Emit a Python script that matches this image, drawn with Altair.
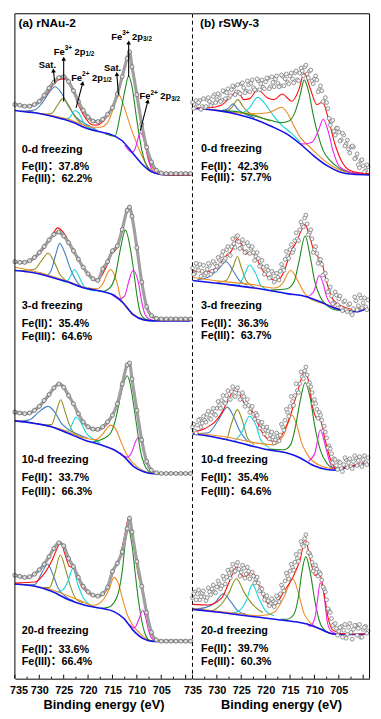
import altair as alt
import pandas as pd

FONT = "Liberation Sans, Arial, Noto Sans CJK SC, sans-serif"
PANEL_W = 179.5
PANEL_H = 674
E_LEFT, E_RIGHT = 735, 698.7

AXIS_VALUES = [735, 730, 725, 720, 715, 710, 705]
MAJOR_TICKS = [735, 730, 725, 720, 715, 710, 705, 700]
MINOR_TICKS = [732.5, 727.5, 722.5, 717.5, 712.5, 707.5, 702.5]

# energy grids of the measured points
GRID_A = [735, 734, 733, 732, 731, 730, 729, 728, 727, 726, 725, 724, 723, 722, 721, 720,
          719, 718, 717, 716, 715, 714, 713, 712, 711.5, 711, 710, 709, 708, 707, 706, 705,
          704, 703, 702, 701, 700, 699]
GRID_B = [735, 734.5, 734, 733.5, 733, 732.5, 732, 731.5, 731, 730.5, 730, 729.5, 729, 728.5,
          728, 727.5, 727, 726.5, 726, 725.5, 725, 724.5, 724, 723.5, 723, 722.5, 722, 721.5,
          721, 720.5, 720, 719.5, 719, 718.5, 718, 717.5, 717, 716.5, 716, 715.5, 715, 714.5,
          714, 713.5, 713, 712.5, 712, 711.5, 711, 710.5, 710, 709.5, 709, 708.5, 708, 707.5,
          707, 706.5, 706, 705.5, 705, 704.5, 704, 703.5, 703, 702.5, 702, 701.5, 701, 700.5,
          700, 699.5, 699]
GRID_B2 = [734.75, 734.25, 733.75, 733.25, 732.75, 732.25, 731.75, 731.25, 730.75, 730.25,
           729.75, 729.25, 728.75, 728.25, 727.75, 727.25, 726.75, 726.25, 725.75, 725.25,
           724.75, 724.25, 723.75, 723.25, 722.75, 722.25, 721.75, 721.25, 720.75, 720.25,
           719.75, 719.25, 718.75, 718.25, 717.75, 717.25, 716.75, 716.25, 715.75, 715.25,
           714.75, 714.25, 713.75, 713.25, 712.75, 712.25, 711.75, 711.25, 710.75, 710.25,
           709.75, 709.25, 708.75, 708.25, 707.75, 707.25, 706.75, 706.25, 705.75, 705.25,
           704.75, 704.25, 703.75, 703.25, 702.75, 702.25, 701.75, 701.25, 700.75, 700.25,
           699.75, 699.25]

# ---------------- (a) rNAu-2 : measured intensities (offset, arb. units) ----------------
a0_data = [582, 581.3, 580.3, 580.3, 582, 585.3, 591.3, 598.7, 604.7, 609.3, 610.3, 605.3,
           596, 585.3, 576, 569.3, 565.3, 564.7, 567, 572, 578.7, 592.7, 610.3, 628.7, 635.3,
           620.3, 592, 562, 538.7, 523.7, 515.3, 512.7, 512, 512, 512, 512, 512, 512]
a1_data = [422.7, 422, 422, 423.7, 427, 432, 438, 444.7, 450.3, 452.7, 448.7, 442, 433.7,
           425.3, 417, 410.3, 405.3, 403.7, 415.3, 422.7, 433.7, 438.7, 455.3, 474.7, 478,
           468.7, 437, 402, 377, 368, 365.3, 364.7, 364.7, 364.7, 364.7, 364.7, 364.7, 364.7]
a2_data = [270.3, 269.3, 268.7, 269.3, 272, 276, 282, 288, 294.7, 298.7, 295.3, 287, 278.7,
           268.7, 260.3, 255.3, 253, 252.7, 255.3, 260.3, 267, 278.7, 298.7, 318, 320, 303.7,
           272, 242, 220.3, 211.3, 208.7, 208, 208, 208, 208, 208, 208, 208]
a3_data = [104.7, 103.7, 102.7, 103.3, 106, 110.3, 116, 123.7, 132, 137.7, 134.7, 122, 113.7,
           102.7, 93.7, 88, 84.7, 83.7, 86, 92.7, 108.7, 117, 128.7, 152, 162.7, 148.7, 118.7,
           93.7, 67, 47, 39.3, 38, 38, 38, 38, 38, 38, 38]

# ---------------- (b) rSWy-3 : measured intensities (two interleaved point sets) --------
b0_data = [584, 579, 583, 586, 580, 579, 587, 585, 583, 592, 587, 591.5, 586.5, 595, 594, 589,
           597, 600, 595, 594.5, 603, 599, 595.5, 602, 603.5, 599, 596.5, 606, 603, 599.5, 605,
           608.5, 600, 604.5, 608, 603.5, 601, 610.5, 608, 604.5, 611, 608, 614, 607, 614, 616,
           620, 613, 616, 606, 608, 607, 597, 596, 584, 584, 568, 565, 555, 558, 554, 546, 551,
           542, 537, 539, 539, 528, 521, 525, 520, 515, 519]
b0_data2 = [578, 586, 584, 577, 588, 580, 589, 581, 590, 584, 593, 585, 596, 588, 598, 591,
            601, 592, 602, 593, 604, 594, 606, 595, 607, 597, 608, 597, 607, 598, 609, 598,
            610, 600, 611, 600, 612, 601, 613, 603, 614, 604, 616, 606, 619, 611, 622, 609,
            617, 603, 611, 595, 601, 585, 589, 578, 561, 566, 551, 558, 545, 553, 540, 546,
            533, 540, 527, 532, 518, 526, 514, 521]
b1_data = [416, 411, 418, 420, 413, 409, 415, 419, 413, 421, 418, 425, 429, 424, 435, 430, 438,
           441, 448, 443, 437, 441, 433, 439, 436, 432, 428, 426, 419, 417, 412, 414, 407, 411,
           405, 407, 413, 416, 425, 428, 435, 432, 444, 446, 455, 460, 467, 461, 452, 446, 435,
           431, 425, 420, 410, 404, 393, 388, 381, 389, 385, 376, 382, 374, 379, 371, 375, 383,
           378, 386, 381, 377, 384]
b1_data2 = [410, 421, 414, 408, 419, 411, 421, 410, 423, 414, 427, 420, 433, 426, 438, 429,
            446, 437, 449, 436, 445, 432, 442, 431, 438, 424, 432, 418, 424, 410, 418, 406,
            413, 402, 411, 404, 420, 414, 433, 426, 440, 435, 452, 444, 463, 458, 470, 450,
            455, 432, 438, 421, 425, 409, 411, 392, 397, 380, 392, 379, 388, 373, 383, 372,
            380, 369, 387, 374, 389, 376, 386, 374]
b2_data = [255, 251, 257, 263, 259, 262, 268, 264, 270, 268, 274, 277, 282, 280, 287, 284, 291,
           287, 293, 289, 284, 286, 279, 277, 274, 268, 269, 261, 259, 255, 252, 251, 247, 245,
           242, 246, 247, 255, 262, 270, 276, 281, 287, 292, 299, 306, 312, 308, 300, 290, 283,
           273, 270, 262, 256, 244, 236, 228, 223, 216, 220, 213, 217, 222, 219, 215, 220, 224,
           221, 217, 222, 219, 224]
b2_data2 = [258, 249, 262, 255, 266, 260, 271, 263, 274, 267, 281, 274, 287, 279, 292, 283,
            296, 286, 295, 283, 290, 276, 283, 270, 276, 263, 267, 254, 260, 248, 255, 243,
            250, 239, 249, 241, 258, 252, 273, 266, 286, 277, 299, 290, 311, 304, 316, 298,
            296, 279, 279, 264, 267, 251, 250, 234, 233, 219, 222, 212, 219, 210, 224, 214,
            223, 213, 226, 216, 225, 215, 226, 217]
b3_data = [82, 88, 86, 80, 87, 83, 82, 88, 91, 88, 93, 96, 94, 101, 103, 107, 111, 108, 115, 111,
           108, 112, 106, 109, 106, 104, 101, 97, 92, 86, 82, 79, 76, 79, 77, 82, 86, 92, 99,
           104, 109, 113, 118, 122, 129, 136, 142, 137, 127, 118, 112, 111, 108, 100, 91, 80, 69,
           61, 55, 51, 48, 53, 49, 41, 52, 47, 50, 54, 51, 42, 50, 53, 48]
b3_data2 = [86, 80, 90, 83, 89, 79, 92, 85, 95, 87, 99, 91, 104, 96, 110, 102, 116, 109, 118,
            104, 115, 102, 113, 101, 108, 97, 103, 89, 91, 80, 84, 74, 81, 73, 84, 78, 95, 89,
            107, 101, 116, 110, 126, 119, 139, 134, 146, 128, 124, 109, 115, 104, 106, 93, 88,
            71, 67, 54, 56, 44, 52, 42, 55, 45, 56, 40, 54, 44, 55, 42, 52, 46]

# ---------------- fitted curves (E, intensity) ----------------
a0_curves = {
    "blue": [(735, 576), (733, 574.7), (731, 573.7), (729, 572), (727, 569.7), (725, 567),
             (723, 563.7), (721, 559.3), (719, 556), (717, 553.7), (715, 551), (713, 545.3),
             (711, 533.7), (709, 522), (707, 513.7), (705, 511), (703, 510.3), (699, 510.3)],
    "red": [(735, 582), (733, 580.3), (731, 581), (729, 589.3), (727, 602.7), (726, 607),
            (725, 608), (724, 604.7), (723, 594.7), (722, 582), (721, 572), (720, 564.7),
            (719, 561.3), (718, 561.3), (717, 564.7), (716, 570.3), (715, 580.3), (714, 592),
            (713, 610.3), (712, 628.7), (711.5, 634.7), (711, 623.7), (710, 593.7),
            (709, 560.3), (708, 535.3), (707, 520.3), (706, 513.7), (705, 511.3), (703, 510.3),
            (699, 510.3)],
    "steel": [(734, 575.2), (731, 576.5), (729.5, 583), (728, 594), (726.8, 600), (725.5, 594),
              (724, 580), (722.5, 569.5), (720, 561), (718, 555.5)],
    "olive": [(729.5, 572.2), (727.5, 573), (726.3, 581), (725.2, 588), (724.2, 583), (723, 572),
              (721.5, 563), (720, 559), (718.5, 555.5)],
    "cyan": [(725.5, 567.5), (724, 568), (723.3, 572), (722.7, 576), (721.8, 572.5),
             (720.8, 563), (719.5, 557.5), (718, 555)],
    "orange": [(733, 575.5), (728, 571.5), (724, 567), (721, 561.5), (719, 559), (717.5, 559),
               (716, 563.7), (715, 575.3), (714, 589.3), (713.6, 591.3), (713, 585.3),
               (712, 570.3), (711, 555.3), (710, 542), (709, 530.3), (708, 520.3), (707, 514.7),
               (705, 511.3)],
    "green": [(716.5, 552.5), (714.5, 550), (713.4, 572), (712.35, 598.7), (711.7, 611),
              (711.1, 603), (710, 566), (709, 536), (707.6, 517), (706, 512), (705, 511)],
    "magenta": [(712.5, 541), (711, 533.5), (710.3, 538), (709.8, 547), (709.3, 553.7),
                (708.6, 547), (707.6, 525), (706.6, 514), (705, 511)],
}
a1_curves = {
    "blue": [(735, 413.7), (730.9, 411.3), (727.5, 407), (724.1, 402), (720.8, 396),
             (717.4, 392.7), (714.7, 388.7), (712.7, 380.3), (710.7, 368.7), (708.6, 363.7),
             (706.6, 362.7), (699, 362.7)],
    "red": [(735, 422), (732, 423), (730, 430.3), (728, 443.7), (727, 452.7), (726.3, 457),
            (725, 452), (724, 443.7), (723, 435.3), (722, 426), (721, 417), (720, 409.3),
            (719, 404.7), (718, 403.7), (717, 410.3), (716, 420.3), (715, 432), (714.5, 433.7),
            (714, 437), (713, 455.3), (712, 473.7), (711.6, 479.3), (711, 470.3), (710, 438.7),
            (709, 402), (708, 375.3), (707, 367), (706, 364.3), (705, 363.3), (699, 363.3)],
    "olive": [(734, 413.5), (731, 415), (729.5, 424), (728.2, 431.3), (727, 423), (725.8, 410),
              (724.5, 403.5), (723, 399.5)],
    "steel": [(730, 411.8), (728.3, 409.5), (727.5, 414.7), (726.7, 428.7), (725.8, 441.3),
              (724.8, 432), (723.5, 414), (722, 400.5), (720.5, 395.5), (719, 393.5)],
    "cyan": [(726, 405.5), (724.5, 402), (723.6, 408), (722.8, 414.7), (721.9, 408), (721, 399),
             (720, 395), (718.5, 393)],
    "orange": [(735, 417), (730.9, 412.7), (724.1, 402.7), (720.1, 396), (718.1, 395.3),
               (716.8, 402), (716.1, 410.3), (715.4, 414.7), (714.7, 410.3), (714, 400.3),
               (713.4, 387), (712.5, 378.5), (711, 370.5), (709, 365), (707, 362.8)],
    "green": [(720, 396), (717, 392.7), (715.4, 397), (714.4, 408.7), (713.4, 435),
              (712.35, 454.7), (711.3, 435), (710.7, 415), (710, 389), (709.3, 371),
              (708.3, 364.7), (706.6, 362.7)],
    "magenta": [(715, 388.5), (713.5, 385), (712.5, 388), (711.7, 402), (710.8, 413.7),
                (709.7, 402), (709, 382), (708.3, 369), (707.3, 364), (706, 362.8)],
}
a2_curves = {
    "blue": [(735, 261.3), (730.9, 258.7), (727.5, 255.3), (724.1, 248.7), (720.8, 242),
             (717.4, 237), (714.7, 232), (712.7, 225.3), (710.7, 215.3), (708.6, 209.7),
             (706.6, 207.7), (699, 207.7)],
    "red": [(735, 268.7), (733, 268.7), (731, 271.3), (729, 280.3), (727, 293.7), (726, 299.3),
            (725, 297), (724, 288.7), (723, 278.7), (722, 268.7), (721, 260.3), (720, 254.7),
            (719, 252), (718, 251.3), (717, 253.7), (716, 258.7), (715, 266), (714, 278.7),
            (713, 298), (712, 317), (711.6, 319.3), (711, 303.7), (710, 272), (709, 240.3),
            (708, 218.7), (707, 210.3), (706, 208), (699, 207.7)],
    "steel": [(734, 261), (732, 262.5), (730.2, 270), (728.2, 276), (726.8, 270), (725.5, 259),
              (724, 252.5), (722, 247.5), (720, 243.5)],
    "olive": [(729, 257), (727.5, 257.5), (726.5, 271), (725.6, 282.7), (724.8, 272),
              (723.8, 257), (722.6, 247.5), (721, 244)],
    "cyan": [(726, 252.5), (724.1, 250.5), (723.1, 260), (722.5, 265.3), (721.5, 260),
             (720.4, 249), (719, 243), (717.5, 239)],
    "orange": [(735, 262), (730, 258.2), (725, 252), (721, 244.5), (718.5, 242.3), (717, 248),
               (716.1, 254), (715.4, 257), (714.4, 253.7), (713.4, 242), (712.4, 230.3),
               (711.4, 222), (710, 215), (708, 209.5), (706, 207.7)],
    "green": [(719, 240), (716.7, 243.7), (715.4, 248.7), (714.4, 262), (713.4, 285.3),
              (712.55, 302), (712, 307), (711.3, 297), (710.7, 278.7), (710, 255.3),
              (709.3, 232), (708.6, 218.7), (707.6, 210.3), (706.6, 208)],
    "magenta": [(713.5, 229), (712, 224.5), (711, 230), (710.3, 240), (709.65, 244.7),
                (709, 239), (708.3, 225.5), (707.3, 212.5), (706.2, 208.2), (705, 207.8)],
}
a3_curves = {
    "blue": [(735, 96), (730.9, 93.7), (727.5, 88.7), (724.1, 80.3), (720.8, 74.7),
             (717.4, 71.3), (714.7, 68), (712.7, 61.3), (710.7, 48.7), (708.6, 40.3),
             (706.6, 37.7), (699, 37.7)],
    "red": [(735, 97), (730.9, 98), (728.9, 107), (727.5, 118.7), (726.5, 130.3),
            (725.6, 138.7), (724.8, 127), (723.8, 113.7), (723.1, 112.7), (722.5, 108.7),
            (721.5, 95.3), (720.1, 87), (718.8, 83.7), (717.4, 85.3), (716.1, 92), (715, 105.3),
            (714.4, 114.7), (713.4, 125.3), (712.35, 148.7), (711.7, 163.7), (711, 152),
            (710.3, 125.3), (709.65, 103.7), (709, 93.7), (708.3, 78.7), (707.6, 58.7),
            (707, 45.3), (706, 38.7), (704.6, 37.7), (699, 37.7)],
    "steel": [(733, 95), (730.9, 95.5), (729.5, 107), (728.3, 116), (727.2, 105.5),
              (726.2, 92.5), (724.8, 84), (723, 79)],
    "olive": [(729.5, 92.5), (727.9, 92.5), (726.8, 107), (725.7, 125.3), (724.5, 108.7),
              (723.5, 92), (722.5, 81), (721, 77)],
    "cyan": [(727, 87.5), (725.2, 90), (724.1, 99), (723.1, 112), (722.1, 95.5), (720.8, 80.5),
             (719.4, 74), (718, 71.5)],
    "orange": [(735, 96.5), (728, 91), (722, 80), (719, 74.5), (718, 75.5), (716.8, 80.5),
               (715.7, 90.3), (714.7, 102.7), (713.7, 95.3), (713, 82), (712, 65.3),
               (711, 55.5), (709.3, 45.5), (707.3, 38.8), (705.5, 37.8)],
    "green": [(717.4, 71.3), (716.1, 72), (714.7, 77), (713.7, 88.7), (713, 108.7),
              (712.35, 138.7), (711.7, 151.3), (711, 135.3), (710.3, 105.3), (709.65, 78.7),
              (709, 58.7), (708.3, 45.3), (707.3, 38.7), (706, 37.7)],
    "magenta": [(711.5, 55), (710.5, 51.5), (709.6, 60), (708.8, 69.3), (708.2, 62),
                (707.6, 49), (707, 41), (706, 38.2)],
}
b0_curves = {
    "blue": [(735, 578), (731.8, 577), (729.1, 575.3), (725.7, 572), (722.3, 567), (719, 560.3),
             (715.6, 552), (712.9, 542), (710.2, 530.3), (707.5, 520.3), (704.8, 513.7),
             (702.1, 511.3), (698.7, 510.7)],
    "red": [(735, 578.7), (731.8, 578.7), (729.1, 581.3), (727.4, 588.7), (725.7, 596),
            (724.5, 587), (723.3, 588), (721.65, 597), (719.6, 588.7), (718.3, 587),
            (716.6, 592.7), (714.6, 585.3), (713.2, 597), (712.1, 613.7), (710.9, 598.7),
            (709.5, 582), (708.3, 584.3), (707.2, 568.7), (705.8, 542), (704.5, 525.3),
            (702.8, 515.3), (700.8, 512.7), (698.7, 512)],
    "steel": [(731, 577.2), (729.1, 576), (727.7, 578), (726.7, 582.7), (725.7, 577),
              (724.7, 573.7), (722.3, 568.7)],
    "olive": [(728.4, 574.7), (727, 578.7), (725.7, 587), (724.7, 580.3), (723.7, 574.7),
              (721.7, 570.3), (719, 565.3)],
    "cyan": [(725, 572.7), (723.3, 578.7), (721.65, 589.3), (720, 582), (718.6, 572),
             (716.9, 562), (714.9, 553.7), (712.9, 543.7)],
    "orange": [(731.8, 577.5), (725.7, 573.7), (722.3, 572.7), (719.6, 573.7), (717.9, 577),
               (716.7, 579.3), (715.6, 573.7), (714.2, 560.3), (712.9, 548.7), (710.9, 538.7),
               (708.8, 528.7), (706.1, 518.7), (703.5, 513.7), (699.4, 511.3)],
    "green": [(729, 575.8), (725.7, 574.7), (722.3, 570.3), (719, 566), (716.9, 563.7),
              (715.2, 565.3), (713.9, 575.3), (712.9, 592), (712.1, 607), (711.2, 595.3),
              (710.2, 570.3), (709.2, 550.3), (708.2, 535.3), (706.8, 525.3), (704.8, 517),
              (702.1, 512.7), (699.4, 511.3)],
    "magenta": [(713, 542.5), (712.2, 542), (710.5, 543.7), (709.2, 555.3), (708.2, 567),
                (707.2, 555.3), (706.2, 535.3), (704.8, 518.7), (702.8, 513.7), (699.4, 511.3)],
}
b1_curves = {
    "blue": [(735, 403.7), (729.1, 400.3), (722.3, 396), (715.6, 390.3), (711.5, 387),
             (708.8, 382), (706.1, 376), (703.5, 372.7), (701.4, 372), (699.4, 375.3)],
    "red": [(735, 413.7), (732.4, 412), (729.7, 418.7), (728.1, 428.7), (727, 433.7),
            (725.8, 446), (725, 440.3), (724.2, 430.3), (723, 432), (722, 427), (720.6, 413.7),
            (719, 405.3), (717.6, 403.7), (716.3, 412), (714.9, 432), (713.6, 443.7),
            (712.6, 455.3), (711.9, 460.3), (711.2, 452), (710.2, 435.3), (709.2, 427),
            (708.5, 422), (707.5, 402), (706.1, 383.7), (704.1, 377), (702.1, 374.3),
            (699.4, 376)],
    "steel": [(734, 404.5), (731.8, 407), (729.7, 415.3), (728.1, 422.7), (726.7, 413.7),
              (725.4, 403.7), (723.7, 398.7)],
    "olive": [(730, 401.5), (728.1, 403.7), (726.7, 417), (725.8, 428), (725, 417),
              (724, 403.7), (722.3, 397)],
    "cyan": [(727, 399.5), (725.7, 398.7), (724.4, 408.7), (723.3, 419.3), (722, 410.3),
             (721, 398.7), (719.3, 393.7)],
    "orange": [(735, 407), (729.1, 402.7), (722.3, 399.3), (718.3, 396), (716.6, 400.3),
               (714.9, 413.7), (713.6, 405.3), (712.2, 392), (710.9, 385.3), (707.5, 379.3),
               (704.1, 373.7), (701.5, 372.5)],
    "green": [(719, 393.9), (715.6, 395.3), (714.2, 402), (713.2, 422), (711.9, 448.7),
              (710.9, 428.7), (709.9, 402), (708.8, 387), (707.5, 378.7), (705.5, 373.7),
              (702, 372.3)],
    "magenta": [(711.5, 387), (710.2, 392), (709, 408.7), (708.2, 400.3), (707.5, 387),
                (706.1, 377), (704.5, 373.5)],
}
b2_curves = {
    "blue": [(735, 248), (731.8, 246), (727.7, 242), (723.7, 237), (719.6, 232),
             (715.6, 228.7), (712.9, 223.7), (710.2, 216), (707.5, 212), (705.5, 211.3),
             (703.5, 213.7), (699.4, 218.7)],
    "red": [(735, 250.3), (732.4, 253.7), (730.4, 260.3), (729.1, 268.7), (727.7, 282),
            (726.4, 292.7), (725.4, 288.7), (724.3, 278.7), (723.3, 275.3), (722.3, 267),
            (721, 252), (719.3, 242), (717.9, 240.3), (716.3, 250.3), (714.9, 267),
            (714.2, 278.7), (713.2, 295.3), (712.1, 310.3), (711.2, 302), (710.5, 278.7),
            (709.5, 263.7), (708.8, 262), (707.8, 242), (706.8, 223.7), (705.5, 212.7),
            (703.5, 214.7), (699.4, 219.3)],
    "steel": [(734, 248.5), (731.8, 249.3), (729.7, 262), (727.85, 275.3), (726.7, 267),
              (725.4, 252), (723.7, 240.3)],
    "olive": [(729.5, 244), (728.1, 242.5), (727, 258.7), (725.8, 272.7), (724.7, 260.3),
              (723.7, 243.7), (722.3, 237)],
    "cyan": [(726.4, 240.5), (725, 248.7), (723.3, 266), (722, 257), (721, 242),
             (719.3, 234.7)],
    "orange": [(735, 249.3), (727.7, 244.7), (722.3, 239.3), (718.3, 237), (716.3, 247),
               (714.6, 267), (713.6, 257), (712.6, 238.7), (711.2, 225.3), (708.8, 216),
               (706.1, 212.7), (703.5, 214.2)],
    "green": [(719.6, 232.7), (716.3, 232), (714.9, 237), (713.9, 255.3), (712.9, 282),
              (711.9, 300.3), (710.9, 285.3), (709.9, 255.3), (708.8, 232), (707.5, 218.7),
              (706.1, 213.7), (704, 213.5)],
    "magenta": [(711.2, 220.3), (709.9, 228.7), (708.8, 252), (707.8, 237), (706.8, 218.7),
                (705.8, 212), (704.5, 212.8)],
}
b3_curves = {
    "blue": [(735, 70.3), (729.1, 67), (722.3, 62.7), (715.6, 58.7), (711.5, 55.3),
             (708.8, 50.3), (706.1, 45.3), (703.5, 44.7), (699.4, 45.3)],
    "red": [(735, 75.3), (731.8, 74.7), (729.1, 81.3), (727.4, 98.7), (726, 113), (725, 106),
            (724.4, 102.7), (722.7, 107.7), (721.3, 93.7), (720, 78.7), (718.3, 73.7),
            (716.3, 88), (714.6, 101.3), (712.9, 121.3), (711.9, 141.3), (710.9, 122),
            (709.9, 104.7), (709, 107), (708.2, 92), (707.2, 62), (706.1, 48.7), (703.5, 45.3),
            (699.4, 45.3)],
    "steel": [(734.5, 70.5), (732.4, 72), (730.4, 77), (728.7, 86), (727, 77), (725.7, 68.7),
              (724, 65.3)],
    "olive": [(731, 68.5), (729.4, 73.7), (727.7, 85.3), (726, 101.3), (724.35, 87),
              (722.7, 75.3), (720.6, 67)],
    "cyan": [(727, 66.5), (725.7, 68), (724, 78.7), (722.7, 95.3), (721.3, 80.3), (720, 68.7),
             (718.3, 63.7)],
    "orange": [(735, 71), (725.7, 66), (721, 63.7), (718.3, 67), (716.3, 82), (714.4, 101.3),
               (713.2, 85.3), (712.2, 67), (710.9, 57), (708.8, 50.3), (706.1, 45.3),
               (703.5, 44.9)],
    "green": [(716.9, 60.3), (715.6, 60.3), (714.2, 65.3), (713.2, 85.3), (712.55, 108.7),
              (711.75, 123.7), (710.9, 108.7), (709.9, 78.7), (709, 58.7), (707.8, 48.7),
              (706.1, 45.3), (703.5, 44.8)],
    "magenta": [(711.5, 55.5), (710.9, 53), (709.9, 62), (709.3, 82), (708.85, 97),
                (708.3, 92), (707.8, 75.3), (707.4, 58.7), (706.7, 48.7), (705.5, 45.5)],
}

# ---------------- texts ----------------
a_texts = ["0-d freezing", "Fe(II)：37.8%", "Fe(III)：62.2%",
           "3-d freezing", "Fe(II)：35.4%", "Fe(III)：64.6%",
           "10-d freezing", "Fe(II)：33.7%", "Fe(III)：66.3%",
           "20-d freezing", "Fe(II)：33.6%", "Fe(III)：66.4%"]
a_text_I = [536.3, 518.7, 506.3, 378, 359.3, 346.7, 221.3, 203, 189.3, 48, 29.3, 17]
b_texts = ["0-d freezing", "Fe(II)：42.3%", "Fe(III)：57.7%",
           "3-d freezing", "Fe(II)：36.3%", "Fe(III)：63.7%",
           "10-d freezing", "Fe(II)：35.4%", "Fe(III)：64.6%",
           "20-d freezing", "Fe(II)：39.7%", "Fe(III)：60.3%"]
b_text_I = [537, 518.7, 507, 377.7, 359.3, 347, 221.3, 203.7, 189.3, 48, 29.7, 17]
A_TEXT_E, B_TEXT_E = 733.6, 733.25
a_title = ("(a) rNAu-2", 734.25, 664.7)
b_title = ("(b) rSWy-3", 733.44, 665)

# peak assignment labels (left panel, 0-d spectrum)
peak_E = [727.05, 723.47, 715.24, 709.46]
peak_I = [635.3, 609, 650.5, 590.3]
peak_ox = ["3+", "2+", "3+", "2+"]
peak_j = ["1/2", "1/2", "3/2", "3/2"]
sat_E = [730.09, 716.74]
sat_I = [622.3, 619]
# arrows: base (E, I) -> tip (E, I), arrow-head angle in degrees
arrow_E0 = [726.81, 725.0, 722.46, 713.77, 711.68, 709.32]
arrow_I0 = [604, 585, 578.7, 592, 610, 555.3]
arrow_E1 = [727.11, 725.0, 721.11, 714.11, 711.68, 707.76]
arrow_I1 = [616.5, 628.5, 603.7, 613, 645, 585.3]
arrow_ang = [353, 0, 15, 355, 0, 14]

COMP_NAMES = ["steel", "olive", "cyan", "orange", "green", "magenta"]
COMP_COLORS = ["#3f7fbf", "#8f8f1f", "#16d3d8", "#ef8b20", "#1d8a1d", "#ee22ee"]
BLUE = "#1414e6"
RED = "#ff0a0a"
LABEL_SIZE = 11
LABEL_PAD = 6.5


def build_panel(spectra, grids, texts, text_I, text_E, title, left):
    comp_rows, base_rows, red_rows, pt_rows = [], [], [], []
    for spec, (val_sets, curves) in spectra.items():
        for grid, vals in zip(grids, val_sets):
            assert len(vals) == len(grid), (spec, len(vals), len(grid))
            for e, v in zip(grid, vals):
                pt_rows.append({"spec": spec, "E": e, "I": v})
        for name, pts in curves.items():
            for e, i in pts:
                row = {"key": f"{spec}-{name}", "curve": name, "E": e, "I": i}
                if name == "blue":
                    base_rows.append(row)
                elif name == "red":
                    red_rows.append(row)
                else:
                    comp_rows.append(row)

    axis_kw = dict(values=AXIS_VALUES, format="d", title="Binding energy (eV)", ticks=False,
                   tickSize=0, domain=True, domainColor="black", domainWidth=1, grid=False,
                   labelFont=FONT, labelFontSize=LABEL_SIZE, labelFontWeight="bold",
                   labelColor="black", labelPadding=LABEL_PAD, labelOverlap=False,
                   labelFlush=False, titleFont=FONT, titleFontSize=13, titleFontWeight="bold",
                   titleColor="black", titlePadding=3)
    if left:
        # the first label is drawn separately so that it does not push the panel right
        axis_kw.update(labelExpr="datum.value == 735 ? '' : datum.label")
    sx = alt.Scale(domain=[E_RIGHT, E_LEFT], reverse=True, nice=False, zero=False)
    sy = alt.Scale(domain=[0, PANEL_H], nice=False, zero=False)
    x = alt.X("E:Q", scale=sx, axis=alt.Axis(**axis_kw))
    y = alt.Y("I:Q", scale=sy, axis=None)

    comps = alt.Chart(pd.DataFrame(comp_rows)).mark_line(
        interpolate="monotone", strokeWidth=1.1).encode(
        x=x, y=y, detail="key:N",
        color=alt.Color("curve:N", scale=alt.Scale(domain=COMP_NAMES, range=COMP_COLORS),
                        legend=None))
    base = alt.Chart(pd.DataFrame(base_rows)).mark_line(
        interpolate="monotone", strokeWidth=1.6, color=BLUE).encode(x=x, y=y, detail="key:N")
    env = alt.Chart(pd.DataFrame(red_rows)).mark_line(
        interpolate="monotone", strokeWidth=1.1, color=RED).encode(x=x, y=y, detail="key:N")
    pdf_pts = pd.DataFrame(pt_rows)
    layers = [comps, base, env]
    if left:
        chain = alt.Chart(pdf_pts).mark_line(
            interpolate="monotone", strokeWidth=3.2, color="#a0a0a0").encode(
            x=x, y=y, detail="spec:N")
        pts = alt.Chart(pdf_pts).mark_point(
            shape="circle", size=17, fill="#dcdcdc", fillOpacity=1, stroke="#5a5a5a",
            strokeWidth=0.7, opacity=1).encode(x=x, y=y)
        layers += [chain, pts]
    else:
        pts = alt.Chart(pdf_pts).mark_point(
            shape="circle", size=15, fill="#f6f6f6", fillOpacity=1, stroke="#6e6e6e",
            strokeWidth=0.7, opacity=1).encode(x=x, y=y)
        layers += [pts]

    tdf = pd.DataFrame({"E": [text_E] * len(texts), "I": text_I, "t": texts})
    txt = alt.Chart(tdf).mark_text(align="left", baseline="middle", font=FONT, fontSize=11,
                                   fontWeight="bold", color="black").encode(x=x, y=y, text="t:N")
    ttl = alt.Chart(pd.DataFrame({"E": [title[1]], "I": [title[2]], "t": [title[0]]})).mark_text(
        align="left", baseline="middle", font=FONT, fontSize=12, fontWeight="bold",
        color="black").encode(x=x, y=y, text="t:N")

    one = pd.DataFrame({"v": [0]})
    top = alt.Chart(one).mark_rule(color="black", strokeWidth=1).encode(
        x=alt.value(0), x2=alt.value(PANEL_W), y=alt.value(0))
    if left:
        side = alt.Chart(one).mark_rule(color="black", strokeWidth=1).encode(
            x=alt.value(0), y=alt.value(0), y2=alt.value(PANEL_H))
        sides = [side]
    else:
        dash = alt.Chart(one).mark_rule(color="black", strokeWidth=1, strokeDash=[4, 3]).encode(
            x=alt.value(0), y=alt.value(0), y2=alt.value(PANEL_H))
        side = alt.Chart(one).mark_rule(color="black", strokeWidth=1).encode(
            x=alt.value(PANEL_W), y=alt.value(0), y2=alt.value(PANEL_H))
        sides = [dash, side]
    major = alt.Chart(pd.DataFrame({"E": MAJOR_TICKS})).mark_rule(
        color="black", strokeWidth=1).encode(x=x, y=alt.value(PANEL_H), y2=alt.value(PANEL_H - 4))
    minor = alt.Chart(pd.DataFrame({"E": MINOR_TICKS})).mark_rule(
        color="black", strokeWidth=1).encode(x=x, y=alt.value(PANEL_H), y2=alt.value(PANEL_H - 2))

    layers += [txt, ttl, top] + sides + [major, minor]

    if left:
        first = alt.Chart(pd.DataFrame({"E": [735]})).mark_text(
            text="735", align="center", baseline="top", dx=4.2, font=FONT, fontSize=LABEL_SIZE,
            fontWeight="bold", color="black").encode(x=x, y=alt.value(PANEL_H + LABEL_PAD))
        pdf = pd.DataFrame({"E": peak_E, "I": peak_I, "ox": peak_ox, "j": peak_j})
        pk_kw = dict(align="left", baseline="middle", font=FONT, fontWeight="bold", color="black")
        fe = alt.Chart(pdf).mark_text(fontSize=9.5, **pk_kw).encode(
            x=x, y=y, text=alt.value("Fe"))
        ox = alt.Chart(pdf).mark_text(fontSize=6.5, dx=11.1, dy=-3.5, **pk_kw).encode(
            x=x, y=y, text="ox:N")
        p2 = alt.Chart(pdf).mark_text(fontSize=9.5, dx=21.1, **pk_kw).encode(
            x=x, y=y, text=alt.value("2p"))
        jj = alt.Chart(pdf).mark_text(fontSize=6.5, dx=32.2, dy=2.5, **pk_kw).encode(
            x=x, y=y, text="j:N")
        sdf = pd.DataFrame({"E": sat_E, "I": sat_I})
        sat = alt.Chart(sdf).mark_text(fontSize=9.5, **pk_kw).encode(
            x=x, y=y, text=alt.value("Sat."))
        adf = pd.DataFrame({"E": arrow_E0, "I": arrow_I0, "E1": arrow_E1, "I1": arrow_I1,
                            "ang": arrow_ang})
        shaft = alt.Chart(adf).mark_rule(color="black", strokeWidth=1.1).encode(
            x=x, y=y, x2="E1:Q", y2="I1:Q")
        head = alt.Chart(adf).mark_point(shape="triangle-up", filled=True, size=22,
                                         color="black", opacity=1).encode(
            x=alt.X("E1:Q", scale=sx, axis=alt.Axis(**axis_kw)),
            y=alt.Y("I1:Q", scale=sy, axis=None),
            angle=alt.Angle("ang:Q", scale=None))
        layers += [first, shaft, head, fe, ox, p2, jj, sat]

    return alt.layer(*layers).properties(width=PANEL_W, height=PANEL_H)


left_panel = build_panel(
    {"a0": ([a0_data], a0_curves), "a1": ([a1_data], a1_curves),
     "a2": ([a2_data], a2_curves), "a3": ([a3_data], a3_curves)},
    [GRID_A], a_texts, a_text_I, A_TEXT_E, a_title, True)
right_panel = build_panel(
    {"b0": ([b0_data, b0_data2], b0_curves), "b1": ([b1_data, b1_data2], b1_curves),
     "b2": ([b2_data, b2_data2], b2_curves), "b3": ([b3_data, b3_data2], b3_curves)},
    [GRID_B, GRID_B2], b_texts, b_text_I, B_TEXT_E, b_title, False)

chart = alt.hconcat(left_panel, right_panel, spacing=0, bounds="flush").properties(
    padding={"left": 0, "top": 0, "right": 0, "bottom": 0},
    background="white",
).configure_view(stroke=None)

chart.save("out.html", embed_options={"renderer": "svg", "actions": False})
